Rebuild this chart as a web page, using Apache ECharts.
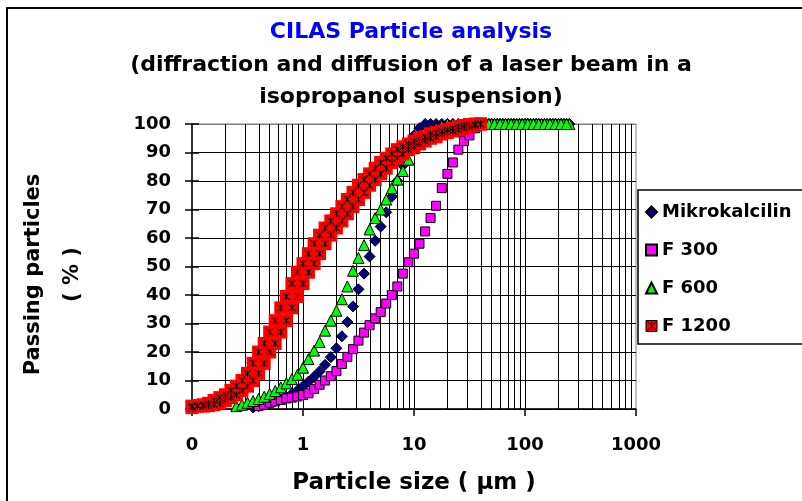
<!DOCTYPE html>
<html>
<head>
<meta charset="utf-8">
<script src="https://cdn.jsdelivr.net/npm/echarts@6/dist/echarts.min.js"></script>
<style type="text/css">
html,body{margin:0;padding:0;background:#fff;overflow:hidden;}
#chart_main{width:900px;height:560px;}
</style>
</head>
<body>
<div id="chart_main"></div>
<script type="text/javascript">
// particle size classes (µm), shared by all samples
var sizes = [
	0.1, 0.112, 0.126, 0.141, 0.158, 0.178, 0.2, 0.224, 0.251, 0.282,
	0.316, 0.355, 0.398, 0.447, 0.501, 0.562, 0.631, 0.708, 0.794, 0.891,
	1, 1.12, 1.26, 1.41, 1.58, 1.78, 2, 2.24, 2.51, 2.82,
	3.16, 3.55, 3.98, 4.47, 5.01, 5.62, 6.31, 7.08, 7.94, 8.91,
	10, 11.2, 12.6, 14.1, 15.8, 17.8, 20, 22.4, 25.1, 28.2,
	31.6, 35.5, 39.8, 44.7, 50.1, 56.2, 63.1, 70.8, 79.4, 89.1,
	100, 112, 126, 141, 158, 178, 200, 224, 251
];
// extra coarse classes where the curves sit at 100 %
var topSizes = [42.2, 47.3, 53.1, 59.6, 66.8, 75, 84.1, 94.4, 106, 119, 133, 150, 168, 188, 211, 237];
var topPass = [100, 100, 100, 100, 100, 100, 100, 100, 100, 100, 100, 100, 100, 100, 100, 100];
var N = null;
// passing particles (%)
var mikro = [
	N, N, N, N, N, N, N, N, N, N,
	N, 0.5, 1, 1.5, 2, 2.7, 3.4, 4.3, 5.3, 6.5,
	8, 9.6, 11.3, 13.2, 15.5, 18.2, 21.3, 25.5, 30.5, 36,
	42, 47.5, 53.5, 59, 64, 69, 74.5, 80, 85.5, 91,
	96, 98.5, 100, 100, 100, 100, 100, 100, 100, 100,
	100, 100, 100, 100, 100, 100, 100, 100, 100, 100,
	100, 100, 100, 100, 100, 100, 100, 100, 100
];
var f300 = [
	N, N, N, N, N, N, N, N, N, N,
	N, N, 1, 1.5, 2.2, 2.7, 3.2, 3.7, 4, 4.4,
	4.9, 5.5, 7, 8.5, 10, 11.5, 13.3, 15.8, 18.3, 21,
	24, 26.8, 29.4, 31.8, 34, 37, 40, 43, 47.5, 51.5,
	54.5, 58, 62.3, 67, 71.3, 77.5, 82.5, 86.5, 91, 94,
	96, 98.5, 100, N, N, N, N, N, N, N,
	N, N, N, N, N, N, N, N, N
];
var f600 = [
	N, N, N, N, N, N, N, N, 1, 1.5,
	2.2, 2.8, 3.5, 4.3, 5.3, 6.3, 7.6, 9, 10.5, 12,
	14.5, 17.5, 20.5, 23.5, 27.5, 31, 34.5, 38.5, 43, 48.5,
	53, 57.5, 63, 67, 70, 73.5, 77.5, 80.5, 83.5, 87.5,
	91.5, 94, 96, 97.5, 98.5, 99.3, 100, 100, 100, 100,
	100, 100, 100, 100, 100, 100, 100, 100, 100, 100,
	100, 100, 100, 100, 100, 100, 100, 100, 100
];
// F 1200 was measured twice: run A (upper edge of the band), run B (lower edge)
var f1200a = [
	1, 1.2, 1.5, 2, 3, 4, 5, 6.5, 8, 10,
	12.5, 16, 20, 23, 27, 31, 35.5, 39.5, 44, 48,
	51, 54.5, 58, 61, 63.5, 66, 68.5, 71, 73.5, 76,
	78.5, 80.5, 82.5, 84.5, 86.5, 88, 89.5, 91, 92, 93,
	94, 95, 95.5, 96.5, 97, 97.5, 98, 98.5, 99, 99.5,
	99.8, 100, 100, N, N, N, N, N, N, N,
	N, N, N, N, N, N, N, N, N
];
var f1200b = [
	0.5, 1, 1, 1.2, 1.5, 2, 3, 4, 5, 6.5,
	8, 10, 12.5, 16, 20, 23, 27, 31, 35.5, 39.5,
	44, 48, 51, 54.5, 58, 61, 63.5, 66, 68.5, 71,
	73.5, 76, 78.5, 80.5, 82.5, 84.5, 86.5, 88, 89.5, 91,
	92, 93, 94, 95, 95.5, 96.5, 97, 97.5, 98, 98.5,
	99, 99.5, 100, N, N, N, N, N, N, N,
	N, N, N, N, N, N, N, N, N
];
var xTicks = [0.1, 1, 10, 100, 1000];
var yTicks = [0, 10, 20, 30, 40, 50, 60, 70, 80, 90, 100];

function pairs(xs, vals){
	var out = [];
	for (var i = 0; i < xs.length; i++) {
		if (vals[i] !== null) out.push([xs[i], vals[i]]);
	}
	return out;
}
// log grid lines 1..9 per decade
var vlines = [];
for (var d = 0; d < xTicks.length - 1; d++) {
	for (var k = 1; k < 10; k++) {
		if (d == 0 && k == 1) continue;
		vlines.push({xAxis: xTicks[d] * k});
	}
}

var FONT = 'DejaVu Sans';
var asterisk = 'path://M0,0L10,10M10,0L0,10M5,0L5,10';
var ySplitColors = [];
for (var i = 0; i < yTicks.length; i++) ySplitColors.push(i == yTicks.length - 1 ? '#808080' : '#000');

var redSquare = {color: '#FF0000', borderWidth: 0, opacity: 1};
var redStar = {color: 'rgba(0,0,0,0)', borderColor: '#000', borderWidth: 1, opacity: 1};

var myChart = echarts.init(document.getElementById('chart_main'));
var option = {
	animation: false,
	textStyle: {fontFamily: FONT, fontWeight: 'bold', color: '#000'},
	title: [
		{text: 'CILAS Particle analysis', left: 411, top: 21, textAlign: 'center', padding: 0,
			textStyle: {fontFamily: FONT, fontSize: 22, fontWeight: 'bold', color: '#0000FF'}},
		{text: '(diffraction and diffusion of a laser beam in a', left: 411, top: 54, textAlign: 'center', padding: 0,
			textStyle: {fontFamily: FONT, fontSize: 22, fontWeight: 'bold', color: '#000'}},
		{text: 'isopropanol suspension)', left: 411, top: 86, textAlign: 'center', padding: 0,
			textStyle: {fontFamily: FONT, fontSize: 22, fontWeight: 'bold', color: '#000'}}
	],
	legend: {
		orient: 'vertical', left: 638, top: 190,
		padding: [12, 40, 8, 7], itemWidth: 11, itemHeight: 11, itemGap: 18, itemTextGap: 10,
		borderColor: '#000', borderWidth: 1.5, backgroundColor: '#fff',
		textStyle: {fontFamily: FONT, fontSize: 18, fontWeight: 'bold', color: '#000', lineHeight: 20},
		data: [
			'Mikrokalcilin', 'F 300', 'F 600',
			{name: 'F 1200', icon: 'path://M0,0L10,0L10,10L0,10Z M1,1L9,9 M9,1L1,9 M5,0.5L5,9.5',
				itemStyle: {color: '#FF0000', borderColor: '#000', borderWidth: 1}}
		]
	},
	grid: {left: 192, top: 124, width: 444, height: 285, show: true, borderColor: '#808080', borderWidth: 1, backgroundColor: 'transparent'},
	xAxis: {
		type: 'log', logBase: 10, min: 0.1, max: 1000,
		name: 'Particle size ( µm )', nameLocation: 'middle', nameGap: 63,
		nameTextStyle: {fontFamily: FONT, fontSize: 23, fontWeight: 'bold', color: '#000'},
		axisLine: {lineStyle: {color: '#000', width: 1.5}},
		axisTick: {length: 7, lineStyle: {color: '#000', width: 1.5}},
		axisLabel: {margin: 27, fontSize: 18, fontWeight: 'bold', color: '#000', fontFamily: FONT,
			formatter: function(v){ return v < 1 ? '0' : String(Math.round(v)); }},
		splitLine: {show: false}
	},
	yAxis: [{
		type: 'value', min: 0, max: 100, interval: 10,
		name: 'Passing particles\n( % )', nameLocation: 'middle', nameGap: 100, nameRotate: 90,
		nameTextStyle: {fontFamily: FONT, fontSize: 21, fontWeight: 'bold', color: '#000', lineHeight: 39, padding: [0, 16, 0, 0]},
		axisLine: {show: true, lineStyle: {color: '#000', width: 1.5}},
		axisTick: {show: true, length: 7, lineStyle: {color: '#000', width: 1.5}},
		axisLabel: {margin: 21, fontSize: 18, fontWeight: 'bold', color: '#000', fontFamily: FONT},
		splitLine: {show: true, lineStyle: {color: ySplitColors, width: 1}}
	}, {
		type: 'value', min: 0, max: 100, interval: 10, position: 'left',
		axisLine: {show: false}, axisLabel: {show: false}, splitLine: {show: false},
		axisTick: {show: true, inside: true, length: 7, lineStyle: {color: '#000', width: 1.5}}
	}],
	graphic: [{
		type: 'rect', z: 100, silent: true,
		shape: {x: 7, y: 8, width: 1200, height: 1200},
		style: {fill: 'none', stroke: '#000', lineWidth: 2}
	}],
	series: [
		{
			name: 'grid', type: 'scatter', data: [], silent: true,
			markLine: {silent: true, z: 1, symbol: 'none', label: {show: false},
				lineStyle: {color: '#000', width: 1, type: 'solid'}, data: vlines}
		},
		{name: 'Mikrokalcilin', type: 'scatter', symbol: 'diamond', symbolSize: 11,
			data: pairs(sizes, mikro).concat(pairs(topSizes, topPass)),
			itemStyle: {color: '#000080', borderColor: '#000', borderWidth: 1, opacity: 1}},
		{name: 'F 300', type: 'scatter', symbol: 'rect', symbolSize: 9, data: pairs(sizes, f300),
			itemStyle: {color: '#FF00FF', borderColor: '#000', borderWidth: 1, opacity: 1}},
		{name: 'F 600', type: 'scatter', symbol: 'triangle', symbolSize: 11,
			data: pairs(sizes, f600).concat(pairs(topSizes, topPass)),
			itemStyle: {color: '#00FF00', borderColor: '#000', borderWidth: 1, opacity: 1}},
		{name: 'F 1200', type: 'scatter', symbol: 'rect', symbolSize: 13, data: pairs(sizes, f1200b), itemStyle: redSquare},
		{name: 'F 1200', type: 'scatter', symbol: 'rect', symbolSize: 13, data: pairs(sizes, f1200a), itemStyle: redSquare},
		{name: 'F 1200', type: 'scatter', symbol: asterisk, symbolSize: 7, data: pairs(sizes, f1200b), itemStyle: redStar},
		{name: 'F 1200', type: 'scatter', symbol: asterisk, symbolSize: 7, data: pairs(sizes, f1200a), itemStyle: redStar}
	]
};
myChart.setOption(option);
</script>
</body>
</html>
